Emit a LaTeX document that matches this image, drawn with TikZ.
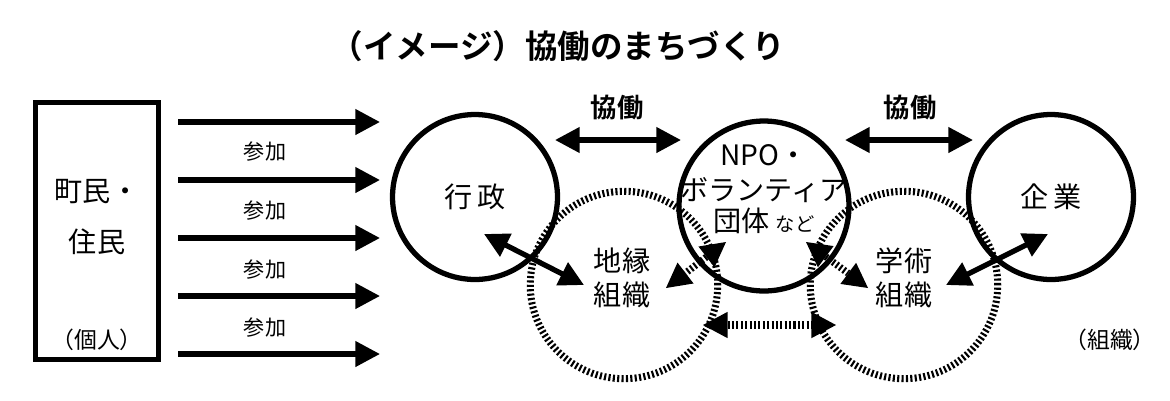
\documentclass[tikz,border=0pt]{standalone}
\usepackage{fontspec}
\setmainfont{Noto Sans CJK JP}[BoldFont={Noto Sans CJK JP Bold}]
\usetikzlibrary{arrows.meta}
\tikzset{
  ring/.style={circle,draw,line width=3pt,minimum size=#1,inner sep=0pt},
  dotring/.style={circle,draw,line width=4pt,dash pattern=on 1.2pt off 1.3pt,minimum size=#1,inner sep=0pt},
  arr/.style={line width=3pt,-{Triangle[length=14pt,width=14pt]}},
  darr/.style={line width=3pt,{Triangle[length=14pt,width=14pt]}-{Triangle[length=14pt,width=14pt]}},
  ddarr/.style={line width=4pt,dash pattern=on 1.2pt off 1.3pt,{Triangle[length=14pt,width=15pt,line width=0pt]}-{Triangle[length=14pt,width=15pt,line width=0pt]}},
  lbl/.style={font=\fontsize{16}{19}\selectfont},
  small/.style={font=\fontsize{11}{13}\selectfont}
}
\begin{document}
\begin{tikzpicture}[x=0.02cm,y=-0.02cm]
\useasboundingbox (0,0) rectangle (1170,400);
% title
\node[font=\bfseries\fontsize{18.5}{22}\selectfont] (title) at (558,46) {（イメージ）協働のまちづくり};
% residents
\node[draw,line width=3pt,minimum width=2.45cm,minimum height=5.15cm,inner sep=0pt] (box) at (97,231) {};
\node[lbl] (cit1) at (97,192) {町民・};
\node[lbl] (cit2) at (97,242) {住民};
\node[small,font=\fontsize{13}{15}\selectfont] (indiv) at (97,340) {（個人）};
\foreach \y/\n in {122/a,180/b,238/c,296/d,354/e} {
  \coordinate (s\n) at (178,\y);
  \coordinate (t\n) at (380,\y);
  \draw[arr] (s\n) -- (t\n);
}
\foreach \y/\n in {152/1,211/2,270/3,328/4}
  \node[small,font=\fontsize{12}{14}\selectfont] (join\n) at (265,\y) {参加};
% dotted rings
\node[dotring=3.75cm] (chien) at (624,285) {};
\node[dotring=3.75cm] (gaku) at (904,285) {};
% solid rings
\node[ring=3.3cm,fill=none] (gyosei) at (475,197) {};
\node[ring=3.4cm] (npo) at (764,206) {};
\node[ring=3.3cm] (kigyo) at (1051,197) {};
% texts
\node[lbl] (tgyosei) at (475,197) {行\,政};
\node[lbl] (tkigyo) at (1051,197) {企\,業};
\node[lbl] (tnpo1) at (764,155) {NPO・};
\node[lbl] (tnpo2) at (764,190) {ボランティア};
\node[lbl] (tnpo3) at (764,221) {団体 {\fontsize{11}{13}\selectfont など}};
\node[lbl,align=center] (tchien) at (622,278) {地縁\\組織};
\node[lbl,align=center] (tgaku) at (904,278) {学術\\組織};
\node[font=\bfseries\fontsize{15}{18}\selectfont] (kyo1) at (617,108) {協働};
\node[font=\bfseries\fontsize{15}{18}\selectfont] (kyo2) at (910,108) {協働};
\node[small,font=\fontsize{13}{15}\selectfont] (soshiki) at (1110,340) {（組織）};
% connectors
\coordinate (k1a) at (555,140); \coordinate (k1b) at (681,140);
\coordinate (k2a) at (845,140); \coordinate (k2b) at (973,140);
\draw[darr] (k1a) -- (k1b);
\draw[darr] (k2a) -- (k2b);
\coordinate (g1) at (484,234); \coordinate (g2) at (584,285);
\draw[darr] (g1) -- (g2);
\coordinate (e1) at (1048,234); \coordinate (e2) at (946,285);
\draw[darr] (e1) -- (e2);
\coordinate (n1) at (726,242); \coordinate (n2) at (666,288);
\draw[ddarr] (n1) -- (n2);
\coordinate (n3) at (806,242); \coordinate (n4) at (868,288);
\draw[ddarr] (n3) -- (n4);
\coordinate (b1) at (703,325); \coordinate (b2) at (836,325);
\draw[ddarr] (b1) -- (b2);
\end{tikzpicture}
\end{document}
